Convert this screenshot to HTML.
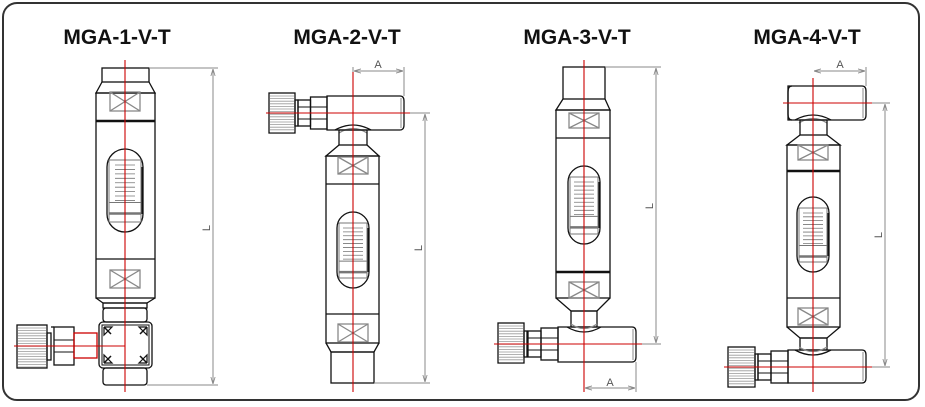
<!DOCTYPE html>
<html><head><meta charset="utf-8">
<style>
html,body{margin:0;padding:0;background:#fff;}
svg{display:block;}
.t{font-family:"Liberation Sans",sans-serif;font-weight:bold;font-size:21px;fill:#111;}
.d{font-family:"Liberation Sans",sans-serif;font-size:11px;fill:#555;}
</style></head>
<body>
<svg id="s" width="925" height="407" viewBox="0 0 925 407" xmlns="http://www.w3.org/2000/svg">
<defs>
<marker id="ar" viewBox="0 0 10 10" refX="10" refY="5" markerWidth="7" markerHeight="7" orient="auto-start-reverse"><path d="M0,2 L10,5 L0,8" fill="none" stroke="#888" stroke-width="1.2"/></marker>
</defs>
<rect x="3" y="3" width="916" height="397" rx="14" fill="#fff" stroke="#333" stroke-width="2"/>
<text class="t" x="117" y="44" text-anchor="middle">MGA-1-V-T</text>
<text class="t" x="347" y="44" text-anchor="middle">MGA-2-V-T</text>
<text class="t" x="577" y="44" text-anchor="middle">MGA-3-V-T</text>
<text class="t" x="807" y="44" text-anchor="middle">MGA-4-V-T</text>
<g id="g" fill="none" stroke="#111" stroke-width="1.3"></g>
<g id="dim"></g>
<text class="d" transform="translate(210,228) rotate(-90)" text-anchor="middle">L</text>
<text class="d" transform="translate(422,248) rotate(-90)" text-anchor="middle">L</text>
<text class="d" transform="translate(653,206) rotate(-90)" text-anchor="middle">L</text>
<text class="d" transform="translate(882,235) rotate(-90)" text-anchor="middle">L</text>
<text class="d" x="378" y="68" text-anchor="middle">A</text>
<text class="d" x="610" y="386" text-anchor="middle">A</text>
<text class="d" x="840" y="68" text-anchor="middle">A</text>
</svg>
<script>
var g=document.getElementById('g'),dm=document.getElementById('dim'),o='';
function R(x0,y0,x1,y1,a){o+='<rect x="'+x0+'" y="'+y0+'" width="'+(x1-x0)+'" height="'+(y1-y0)+'" '+(a||'')+'/>';}
function L(x0,y0,x1,y1,a){o+='<line x1="'+x0+'" y1="'+y0+'" x2="'+x1+'" y2="'+y1+'" '+(a||'')+'/>';}
function P(pts,a){o+='<polyline points="'+pts+'" '+(a||'')+'/>';}
function X(cx,y0,y1){var w=15;R(cx-w,y0,cx+w,y1,'stroke="#888"');L(cx-w,y0,cx+w,y1,'stroke="#888"');L(cx+w,y0,cx-w,y1,'stroke="#888"');}
function W(cx,hw,y0,y1){var r=hw;o+='<path d="M'+(cx-hw)+','+(y0+r)+' A'+hw+','+r+' 0 0 1 '+(cx+hw)+','+(y0+r)+' L'+(cx+hw)+','+(y1-r)+' A'+hw+','+r+' 0 0 1 '+(cx-hw)+','+(y1-r)+' Z"/>';
 L(cx+hw-1,y0+r,cx+hw-1,y1-r,'stroke-width="2.5"');
 R(cx-hw+2,y0+11,cx+hw-2,y1-10,'stroke="#777" stroke-width="1"');
 var gy0=y0+16,gy1=y0+(y1-y0)*0.62;for(var i=0;i<9;i++){var yy=gy0+(gy1-gy0)*i/8;L(cx-10,yy,cx+10,yy,'stroke="#777" stroke-width="0.8"');}
 L(cx-hw+2,gy1+2,cx+hw-2,gy1+2,'stroke="#777" stroke-width="1"');
 L(cx-hw+2,gy1+13,cx+hw-2,gy1+13,'stroke="#777" stroke-width="2.5"');}
function K(x0,x1,y0,y1){R(x0,y0,x1,y1);for(var y=y0+3;y<y1;y+=2.6)L(x0+1,y,x1-1,y,'stroke="#999" stroke-width="0.8"');}
function H(x0,x1,y0,y1,cy){R(x0,y0,x1,y1);L(x0,cy-6,x1,cy-6,'stroke-width="1"');L(x0,cy+6,x1,cy+6,'stroke-width="1"');}
function valve(kx0,kx1,ky0,ky1,cy,hx0,hx1){K(kx0,kx1,ky0,ky1);R(kx1,cy-13,kx1+3,cy+13);var m=(hx0+hx1)/2;H(hx0,m-2,cy-13,cy+13,cy);H(m-2,hx1,cy-16,cy+16,cy);}
function tee(x0,x1,y0,y1){o+='<path d="M'+x0+','+y0+' L'+(x1-4)+','+y0+' Q'+x1+','+y0+' '+x1+','+(y0+5)+' L'+x1+','+(y1-5)+' Q'+x1+','+y1+' '+(x1-4)+','+y1+' L'+x0+','+y1+' Z"/>';L(x1-3,y0+2,x1-3,y1-2,'stroke="#888" stroke-width="1"');}
function saddle(cx,hw,y,dir){o+='<path d="M'+(cx-hw-4)+','+y+' Q'+cx+','+(y-dir*10)+' '+(cx+hw+4)+','+y+'"/>';o+='<path d="M'+(cx-hw)+','+(y+dir*3)+' Q'+cx+','+(y-dir*6)+' '+(cx+hw)+','+(y+dir*3)+'" stroke="#888"/>';}
/* ---- 1 ---- */
var c=125;
R(102,68,149,82);P('102,82 96,93 155,93 149,82');R(96,93,155,298);
L(96,121,155,121,'stroke-width="2.5"');L(96,259,155,259);X(c,92,111);X(c,270,288);W(c,18,149,232);
P('96,298 103,303 147,303 155,298');R(103,303,147,308);R(103,308,147,322,'rx="3"');
R(99,322,152,368,'rx="4"');R(102,325,149,365,'stroke-width="1"');
[[104,327,1,1],[147,327,-1,1],[104,363,1,-1],[147,363,-1,-1]].forEach(function(a){P(a[0]+','+a[1]+' '+(a[0]+a[2]*8)+','+a[1]+' '+a[0]+','+(a[1]+a[3]*8)+' '+a[0]+','+a[1],'stroke-width="1.2"');L(a[0],a[1],a[0]+a[2]*7,a[1]+a[3]*7,'stroke-width="1.5"');});
R(103,368,147,385,'rx="3"');
K(17,47,325,368);R(47,333,51,360);H(54,74,327,365,346);R(74,333,97,358,'stroke="#c00"');
L(51,327,54,327);
/* ---- 2 ---- */
c=353;tee(327,404,96,130);valve(269,295,93,133,113,298,327);saddle(c,14,130,1);
R(339,130,367,145);P('339,145 326,156 379,156 367,145');R(326,156,379,343);
L(326,184,379,184);L(326,314,379,314);X(c,157,174);X(c,324,342);W(c,16,212,288);
P('326,343 331,352 374,352 379,343');R(331,352,374,383);
/* ---- 3 ---- */
c=584;R(563,67,605,99);P('563,99 556,110 610,110 605,99');R(556,110,610,298);
L(556,138,610,138);L(556,272,610,272,'stroke-width="2.5"');X(c,113,128);X(c,282,298);W(c,16,166,244);
P('556,298 571,311 597,311 610,298');R(571,311,597,327);tee(558,636,327,362);saddle(c,13,327,-1);
valve(498,524,323,363,344,528,558);
/* ---- 4 ---- */
c=813;tee(788,866,86,120);o+='<path d="M792,86 Q788,86 788,92 L788,114 Q788,120 792,120"/>';saddle(c,14,120,1);
R(800,120,827,135);P('800,135 787,145 840,145 827,135');R(787,145,840,327);
L(787,171,840,171,'stroke-width="2.5"');L(787,298,840,298);X(c,145,160);X(c,308,325);W(c,16,197,272);
P('787,327 800,338 827,338 840,327');R(800,338,827,350);tee(788,866,350,383);saddle(c,14,350,-1);
valve(728,755,347,387,367,758,788);
g.innerHTML=o;
/* centerlines + dims */
o='';var red='stroke="#c00" stroke-width="1.1"';
L(125,60,125,392,red);L(14,346,125,346,red);
L(353,72,353,392,red);L(266,113,410,113,red);
L(584,60,584,392,red);L(494,344,642,344,red);
L(813,78,813,392,red);L(724,367,872,367,red);L(783,103,872,103,red);
var gr='stroke="#888" stroke-width="1"';
function V(x,y0,y1){L(x,y0+1,x,y1-1,gr+' marker-start="url(#ar)" marker-end="url(#ar)"');}
function Hd(y,x0,x1){L(x0+1,y,x1-1,y,gr+' marker-start="url(#ar)" marker-end="url(#ar)"');}
L(149,68,218,68,gr);L(147,385,218,385,gr);V(213,68,385);
L(410,113,430,113,gr);L(374,383,430,383,gr);V(425,113,383);
L(605,67,661,67,gr);L(642,344,661,344,gr);V(656,67,344);
L(872,103,890,103,gr);L(872,367,890,367,gr);V(885,103,367);
L(404,67,404,96,gr);L(353,67,353,72,gr);Hd(71,353,404);
L(636,362,636,392,gr);Hd(388,584,636);
L(866,67,866,86,gr);Hd(71,813,866);
dm.innerHTML=o;
</script>
</body></html>
